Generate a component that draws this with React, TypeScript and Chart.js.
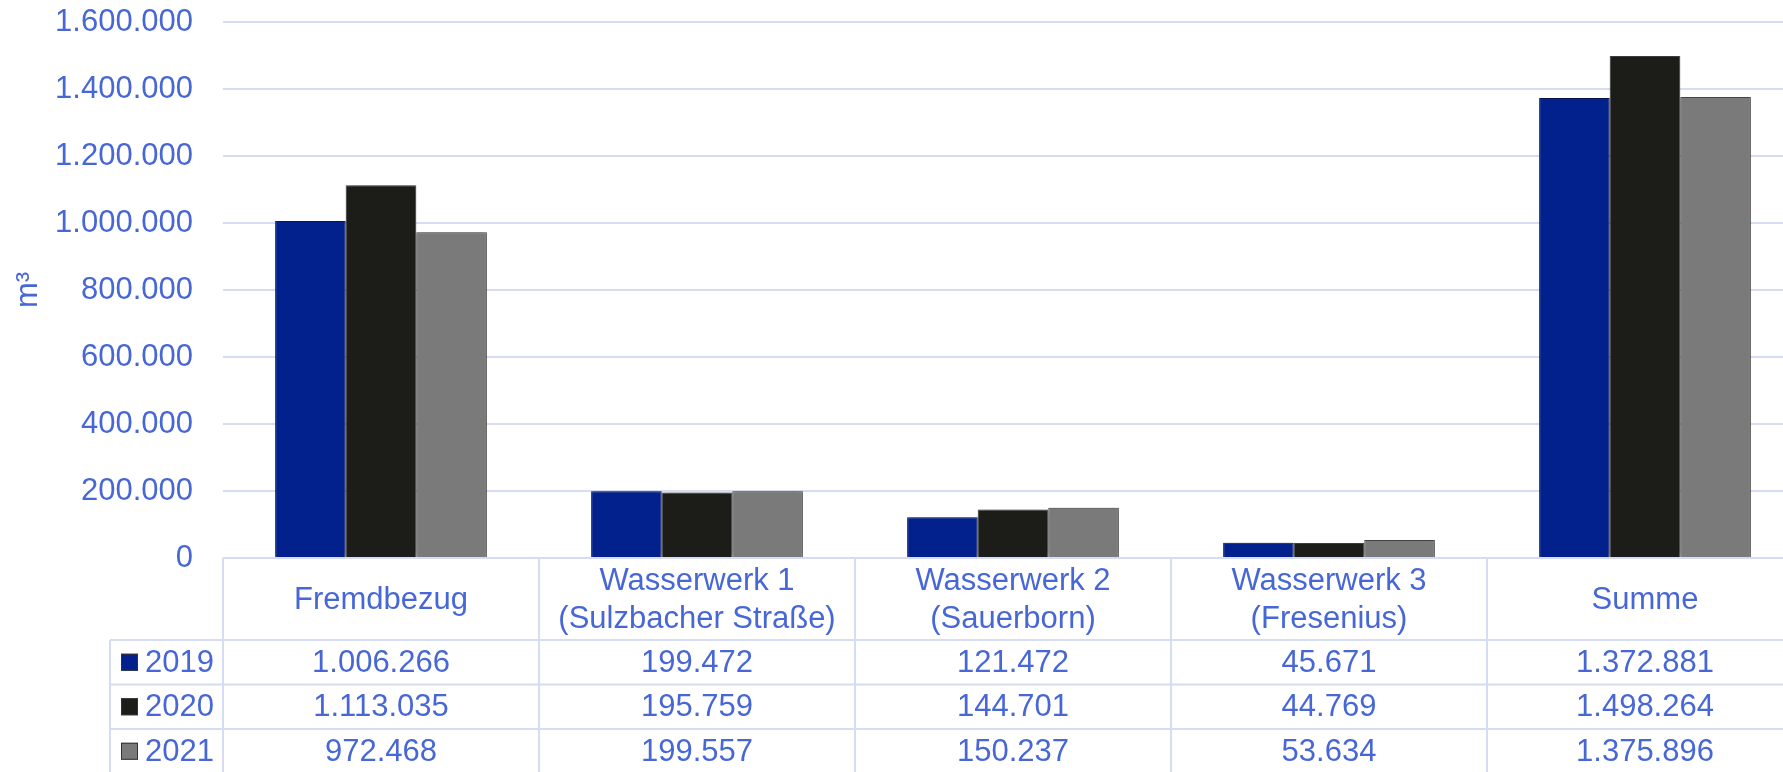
import React, { useEffect, useRef } from "react";
import { Chart, registerables } from "chart.js";

Chart.register(...registerables);

const categories: string[][] = [
  ["Fremdbezug"],
  ["Wasserwerk 1", "(Sulzbacher Straße)"],
  ["Wasserwerk 2", "(Sauerborn)"],
  ["Wasserwerk 3", "(Fresenius)"],
  ["Summe"],
];
const years = ["2019", "2020", "2021"];
const values2019 = [1006266, 199472, 121472, 45671, 1372881];
const values2020 = [1113035, 195759, 144701, 44769, 1498264];
const values2021 = [972468, 199557, 150237, 53634, 1375896];
const seriesValues = [values2019, values2020, values2021];
const seriesColors = ["#02218D", "#1C1C18", "#7A7A7A"];
const seriesBorders = ["#0A1A66", "#4A4A4A", "#505050"];
const yMax = 1600000;
const yStep = 200000;
const axisTitle = "m³";

const TEXT = "#4767D6";
const GRID = "#D5DCF3";
const FONT = "'Liberation Sans', Arial, sans-serif";
const FS = 31;

function fmt(n: number): string {
  const s = Math.round(n).toString();
  return s.replace(/\B(?=(\d{3})+(?!\d))/g, ".");
}

const shadowPlugin = {
  id: "barShadow",
  beforeDatasetsDraw(chart: any) {
    const ctx = chart.ctx;
    ctx.save();
    ctx.shadowColor = "rgba(0,0,0,0.4)";
    ctx.shadowBlur = 7;
    ctx.shadowOffsetX = 0;
    ctx.shadowOffsetY = 0;
  },
  afterDatasetsDraw(chart: any) {
    chart.ctx.restore();
  },
};

const tablePlugin = {
  id: "dataTable",
  afterDraw(chart: any) {
    const ctx = chart.ctx;
    const xs = chart.scales.x;
    const area = chart.chartArea;
    const n = categories.length;
    const colW = xs.getPixelForValue(1) - xs.getPixelForValue(0);
    const top = area.bottom;
    const headerH = 82;
    const rowH = 44.5;
    const headerBottom = top + headerH;
    const bottom = headerBottom + rowH * years.length;
    const legendLeft = area.left - 113;
    const firstLeft = xs.getPixelForValue(0) - colW / 2;
    const lastRight = xs.getPixelForValue(n - 1) + colW / 2;

    ctx.save();
    ctx.strokeStyle = GRID;
    ctx.lineWidth = 2;
    ctx.beginPath();
    ctx.moveTo(firstLeft, top);
    ctx.lineTo(lastRight, top);
    for (let r = 0; r <= years.length; r++) {
      const y = headerBottom + rowH * r;
      ctx.moveTo(legendLeft, y);
      ctx.lineTo(lastRight, y);
    }
    for (let i = 0; i <= n; i++) {
      const x = firstLeft + colW * i;
      ctx.moveTo(x, top);
      ctx.lineTo(x, bottom);
    }
    ctx.moveTo(legendLeft, headerBottom);
    ctx.lineTo(legendLeft, bottom);
    ctx.stroke();

    ctx.fillStyle = TEXT;
    ctx.font = `${FS}px ${FONT}`;
    ctx.textAlign = "center";
    ctx.textBaseline = "middle";
    const headerMid = top + 42;
    const lh = 38;
    categories.forEach((lines, i) => {
      const cx = xs.getPixelForValue(i);
      const startY = headerMid - ((lines.length - 1) * lh) / 2;
      lines.forEach((ln, k) => ctx.fillText(ln, cx, startY + k * lh));
    });

    years.forEach((yr, r) => {
      const cy = headerBottom + rowH * (r + 0.5);
      ctx.fillStyle = seriesColors[r];
      ctx.fillRect(legendLeft + 11, cy - 8.5, 17, 17);
      ctx.strokeStyle = "#333333";
      ctx.lineWidth = 1;
      ctx.strokeRect(legendLeft + 11.5, cy - 8, 16, 16);
      ctx.fillStyle = TEXT;
      ctx.textAlign = "left";
      ctx.fillText(yr, legendLeft + 35, cy + 1);
      ctx.textAlign = "center";
      seriesValues[r].forEach((v, i) => {
        ctx.fillText(fmt(v), xs.getPixelForValue(i), cy + 1);
      });
    });
    ctx.restore();
  },
};

export default function App() {
  const ref = useRef<HTMLCanvasElement | null>(null);

  useEffect(() => {
    if (!ref.current) return;
    const chart = new Chart(ref.current, {
      type: "bar",
      data: {
        labels: categories.map((c) => c.join(" ")),
        datasets: years.map((yr, i) => ({
          label: yr,
          data: seriesValues[i],
          backgroundColor: seriesColors[i],
          borderColor: seriesBorders[i],
          borderWidth: 1,
          categoryPercentage: 0.67,
          barPercentage: 1.0,
        })),
      },
      options: {
        animation: false,
        responsive: false,
        devicePixelRatio: 1,
        layout: { padding: { top: 22, left: 0, right: 0, bottom: 0 } },
        plugins: {
          legend: { display: false },
          tooltip: { enabled: false },
          title: { display: false },
        },
        scales: {
          x: {
            grid: { display: false, drawTicks: false },
            border: { display: false },
            ticks: { display: false },
            afterFit: (s: any) => {
              s.height = 215;
              s.paddingLeft = 0;
              s.paddingRight = 0;
            },
          },
          y: {
            min: 0,
            max: yMax,
            ticks: {
              stepSize: yStep,
              padding: 30,
              color: TEXT,
              font: { family: FONT, size: FS },
              callback: (v: any) => fmt(Number(v)),
            },
            grid: { color: GRID, lineWidth: 2, drawTicks: false },
            border: { display: false },
            title: {
              display: true,
              text: axisTitle,
              color: TEXT,
              font: { family: FONT, size: FS },
              padding: { top: 10, bottom: 0 },
            },
            afterFit: (s: any) => {
              s.width = 223;
              s.paddingTop = 0;
              s.paddingBottom = 0;
            },
          },
        },
      },
      plugins: [shadowPlugin, tablePlugin],
    });
    return () => chart.destroy();
  }, []);

  return (
    <div
      style={{
        position: "fixed",
        left: 0,
        top: 0,
        width: 1783,
        height: 772,
        overflow: "hidden",
        background: "#ffffff",
      }}
    >
      <canvas
        ref={ref}
        width={1803}
        height={773}
        style={{ display: "block", width: 1803, height: 773 }}
      />
    </div>
  );
}
